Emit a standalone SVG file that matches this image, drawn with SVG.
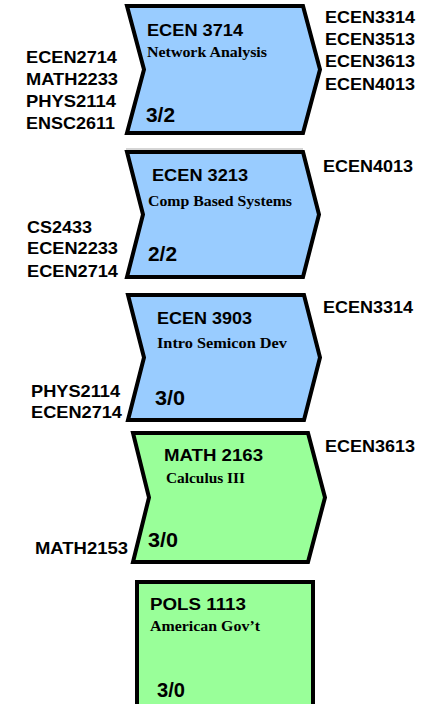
<svg xmlns="http://www.w3.org/2000/svg" width="431" height="704" viewBox="0 0 431 704">
<style>
.blue{fill:#99CCFF;stroke:#000;stroke-width:4;stroke-linejoin:miter}
.green{fill:#99FF99;stroke:#000;stroke-width:4;stroke-linejoin:miter}
.code{font-family:"Liberation Sans",Arial,sans-serif;font-weight:bold;font-size:16.5px;fill:#000}
.title{font-family:"Liberation Sans",Arial,sans-serif;font-weight:bold;font-size:16px;fill:#000}
.sub{font-family:"Liberation Serif","Times New Roman",serif;font-weight:bold;font-size:14px;fill:#000}
.cred{font-family:"Liberation Sans",Arial,sans-serif;font-weight:bold;font-size:20px;fill:#000}
</style>
<rect width="431" height="704" fill="#fff"/>
<g id="connectors"></g>
<g id="ecen3714">
<polygon class="blue" points="127,6 303,6 320,69.5 303,133 127,133 144,69.5"/>
<line x1="126" y1="149" x2="303" y2="149" stroke="#aaa" stroke-width="1"/>
<text class="title" x="147" y="36" textLength="96" lengthAdjust="spacingAndGlyphs">ECEN 3714</text>
<text class="sub" x="147" y="57" textLength="120" lengthAdjust="spacingAndGlyphs">Network Analysis</text>
<text class="cred" x="146" y="122" textLength="29" lengthAdjust="spacingAndGlyphs">3/2</text>
<text class="code" x="26" y="63" textLength="91" lengthAdjust="spacingAndGlyphs">ECEN2714</text>
<text class="code" x="26" y="85" textLength="92" lengthAdjust="spacingAndGlyphs">MATH2233</text>
<text class="code" x="26" y="107" textLength="90" lengthAdjust="spacingAndGlyphs">PHYS2114</text>
<text class="code" x="26" y="129" textLength="89" lengthAdjust="spacingAndGlyphs">ENSC2611</text>
<text class="code" x="325" y="23" textLength="90" lengthAdjust="spacingAndGlyphs">ECEN3314</text>
<text class="code" x="325" y="45" textLength="90" lengthAdjust="spacingAndGlyphs">ECEN3513</text>
<text class="code" x="325" y="67" textLength="90" lengthAdjust="spacingAndGlyphs">ECEN3613</text>
<text class="code" x="325" y="90" textLength="90" lengthAdjust="spacingAndGlyphs">ECEN4013</text>
</g>
<g id="ecen3213">
<polygon class="blue" points="127,152 303,152 319,214.5 303,277 127,277 143,214.5"/>
<text class="title" x="152" y="181" textLength="96" lengthAdjust="spacingAndGlyphs">ECEN 3213</text>
<text class="sub" x="148" y="206" textLength="144" lengthAdjust="spacingAndGlyphs">Comp Based Systems</text>
<text class="cred" x="148" y="261" textLength="29" lengthAdjust="spacingAndGlyphs">2/2</text>
<text class="code" x="27" y="233" textLength="65" lengthAdjust="spacingAndGlyphs">CS2433</text>
<text class="code" x="27" y="254" textLength="91" lengthAdjust="spacingAndGlyphs">ECEN2233</text>
<text class="code" x="27" y="277" textLength="91" lengthAdjust="spacingAndGlyphs">ECEN2714</text>
<text class="code" x="323" y="172" textLength="90" lengthAdjust="spacingAndGlyphs">ECEN4013</text>
</g>
<g id="ecen3903">
<polygon class="blue" points="128,295 304,295 320,357.5 304,420 128,420 144,357.5"/>
<text class="title" x="157" y="324" textLength="95" lengthAdjust="spacingAndGlyphs">ECEN 3903</text>
<text class="sub" x="157" y="348" textLength="130" lengthAdjust="spacingAndGlyphs">Intro Semicon Dev</text>
<text class="cred" x="155" y="405" textLength="30" lengthAdjust="spacingAndGlyphs">3/0</text>
<text class="code" x="31" y="397" textLength="89" lengthAdjust="spacingAndGlyphs">PHYS2114</text>
<text class="code" x="31" y="418" textLength="91" lengthAdjust="spacingAndGlyphs">ECEN2714</text>
<text class="code" x="323" y="313" textLength="90" lengthAdjust="spacingAndGlyphs">ECEN3314</text>
</g>
<g id="math2163">
<polygon class="green" points="133,433 308,433 325,497.5 308,562 133,562 149,497.5"/>
<text class="title" x="164" y="461" textLength="99" lengthAdjust="spacingAndGlyphs">MATH 2163</text>
<text class="sub" x="166" y="483" textLength="79" lengthAdjust="spacingAndGlyphs">Calculus III</text>
<text class="cred" x="148" y="547" textLength="30" lengthAdjust="spacingAndGlyphs">3/0</text>
<text class="code" x="35" y="554" textLength="93" lengthAdjust="spacingAndGlyphs">MATH2153</text>
<text class="code" x="325" y="452" textLength="90" lengthAdjust="spacingAndGlyphs">ECEN3613</text>
</g>
<g id="pols1113">
<rect class="green" x="137" y="582" width="176" height="130"/>
<text class="title" x="150" y="610" textLength="96" lengthAdjust="spacingAndGlyphs">POLS 1113</text>
<text class="sub" x="150" y="631" textLength="110" lengthAdjust="spacingAndGlyphs">American Gov’t</text>
<text class="cred" x="157" y="697" textLength="28" lengthAdjust="spacingAndGlyphs">3/0</text>
</g>
</svg>
